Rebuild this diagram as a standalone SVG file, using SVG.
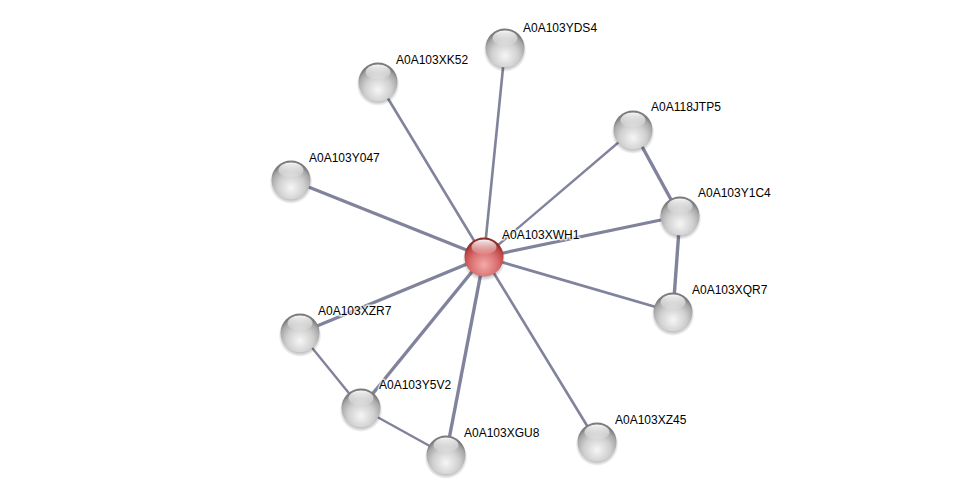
<svg xmlns="http://www.w3.org/2000/svg" width="975" height="500" viewBox="0 0 975 500">
<defs>
<radialGradient id="gg" cx="0.5" cy="0.7" r="0.62">
<stop offset="0" stop-color="#f6f6f6"/>
<stop offset="0.55" stop-color="#cfcfcf"/>
<stop offset="0.85" stop-color="#a8a8a8"/>
<stop offset="1" stop-color="#7c7c7c"/>
</radialGradient>
<radialGradient id="rg" cx="0.5" cy="0.7" r="0.62">
<stop offset="0" stop-color="#f4aaaa"/>
<stop offset="0.55" stop-color="#da7070"/>
<stop offset="0.85" stop-color="#c04848"/>
<stop offset="1" stop-color="#8e2c2c"/>
</radialGradient>
<linearGradient id="hl" x1="0" y1="0" x2="0" y2="1">
<stop offset="0" stop-color="#ffffff" stop-opacity="0.95"/>
<stop offset="1" stop-color="#ffffff" stop-opacity="0.05"/>
</linearGradient>
<radialGradient id="sh" cx="0.5" cy="0.5" r="0.5">
<stop offset="0.75" stop-color="#000" stop-opacity="0.3"/>
<stop offset="1" stop-color="#000" stop-opacity="0"/>
</radialGradient>
<g id="ball">
<circle cx="0" cy="2.5" r="21.5" fill="url(#sh)"/>
<circle cx="0" cy="0" r="19.5" fill="url(#gg)"/>
<ellipse cx="0" cy="-10" rx="12.5" ry="7.5" fill="url(#hl)"/>
</g>
<g id="rball">
<circle cx="0" cy="2.5" r="21.5" fill="url(#sh)"/>
<circle cx="0" cy="0" r="19.5" fill="url(#rg)"/>
<ellipse cx="0" cy="-10" rx="12.5" ry="7.5" fill="url(#hl)"/>
</g>
</defs>
<style>
.e{stroke:#80839b;stroke-linecap:butt;fill:none}
.t{font-family:"Liberation Sans",Arial,sans-serif;font-size:12px;fill:#000;stroke:#ffffff;stroke-opacity:0.7;stroke-width:3px;paint-order:stroke;stroke-linejoin:round}
</style>
<rect width="975" height="500" fill="#ffffff"/>
<g id="edges">
<line class="e" x1="484" y1="257" x2="505" y2="48" stroke-width="2.6"/>
<line class="e" x1="484" y1="257" x2="378" y2="82" stroke-width="2.6"/>
<line class="e" x1="484" y1="257" x2="291" y2="180" stroke-width="3.2"/>
<line class="e" x1="484" y1="257" x2="633" y2="130" stroke-width="2.4"/>
<line class="e" x1="484" y1="257" x2="680" y2="216" stroke-width="3.2"/>
<line class="e" x1="484" y1="257" x2="673" y2="312" stroke-width="2.8"/>
<line class="e" x1="484" y1="257" x2="300" y2="333" stroke-width="3.4"/>
<line class="e" x1="484" y1="257" x2="361" y2="408" stroke-width="3.4"/>
<line class="e" x1="484" y1="257" x2="446" y2="455" stroke-width="3.4"/>
<line class="e" x1="484" y1="257" x2="597" y2="442" stroke-width="2.6"/>
<line class="e" x1="633" y1="130" x2="680" y2="216" stroke-width="3.4"/>
<line class="e" x1="680" y1="216" x2="673" y2="312" stroke-width="3.4"/>
<line class="e" x1="300" y1="333" x2="361" y2="408" stroke-width="2.4"/>
<line class="e" x1="361" y1="408" x2="446" y2="455" stroke-width="2.4"/>
</g>
<g id="n_YDS4"><use href="#ball" x="505" y="48"/><text class="t" x="523" y="32">A0A103YDS4</text></g>
<g id="n_XK52"><use href="#ball" x="378" y="82"/><text class="t" x="396" y="64">A0A103XK52</text></g>
<g id="n_Y047"><use href="#ball" x="291" y="180"/><text class="t" x="309" y="162">A0A103Y047</text></g>
<g id="n_JTP5"><use href="#ball" x="633" y="130"/><text class="t" x="651" y="111">A0A118JTP5</text></g>
<g id="n_Y1C4"><use href="#ball" x="680" y="216"/><text class="t" x="698" y="197">A0A103Y1C4</text></g>
<g id="n_XQR7"><use href="#ball" x="673" y="312"/><text class="t" x="692" y="294">A0A103XQR7</text></g>
<g id="n_XZR7"><use href="#ball" x="300" y="333"/><text class="t" x="318" y="315">A0A103XZR7</text></g>
<g id="n_Y5V2"><use href="#ball" x="361" y="408"/><text class="t" x="379" y="389">A0A103Y5V2</text></g>
<g id="n_XGU8"><use href="#ball" x="446" y="455"/><text class="t" x="464" y="437">A0A103XGU8</text></g>
<g id="n_XZ45"><use href="#ball" x="597" y="442"/><text class="t" x="615" y="424">A0A103XZ45</text></g>
<g id="n_XWH1"><use href="#rball" x="484" y="257"/><text class="t" x="502" y="239">A0A103XWH1</text></g>
</svg>
